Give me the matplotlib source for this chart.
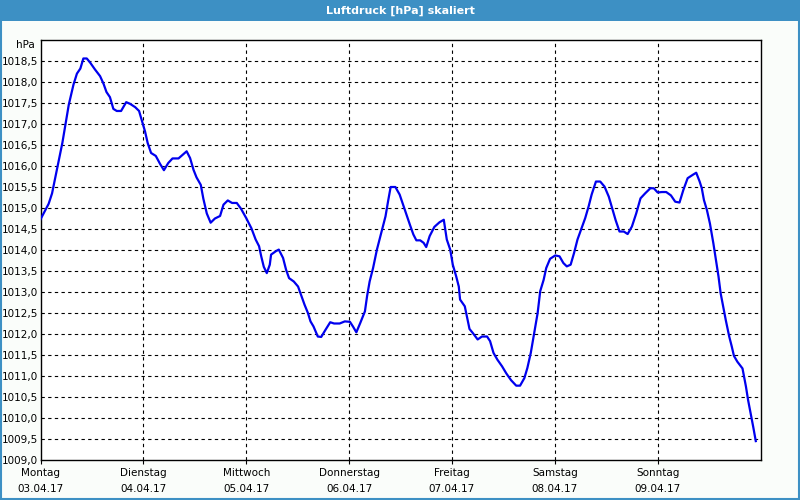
import matplotlib
matplotlib.use("Agg")
import matplotlib.pyplot as plt
from matplotlib.patches import Rectangle
import numpy as np

# hours since Monday 03.04.17 00:00
hours = [0.0, 1.9, 2.7, 3.5, 4.3, 5.1, 5.8, 6.6, 7.7, 8.5, 9.3, 10.0, 10.8, 11.6, 12.7, 13.9,
         14.7, 15.4, 16.2, 17.0, 17.8, 18.8, 20.0, 20.9, 22.1, 23.0, 23.6, 24.4, 25.0, 25.8,
         26.9, 27.9, 28.8, 29.8, 30.8, 32.2, 33.2, 34.1, 34.9, 35.7, 36.4, 37.4, 38.0, 38.8,
         39.7, 40.7, 41.9, 42.7, 43.7, 44.7, 45.8, 46.8, 48.0, 49.2, 50.2, 51.0, 51.5, 52.1,
         52.8, 53.5, 53.8, 54.9, 55.6, 56.6, 57.3, 58.0, 59.1, 60.1, 60.9, 61.6, 62.4, 63.0,
         63.7, 64.7, 65.5, 66.5, 67.6, 68.5, 69.8, 71.0, 72.2, 72.9, 73.7, 74.6, 75.7, 76.2,
         76.8, 77.6, 78.5, 79.5, 80.5, 81.1, 81.7, 82.8, 83.8, 85.0, 86.2, 87.0, 87.7, 88.6,
         89.4, 90.0, 90.8, 91.9, 93.1, 94.1, 94.8, 95.6, 96.2, 97.0, 97.6, 97.9, 99.0, 99.5,
         100.1, 100.9, 102.0, 103.0, 104.2, 104.9, 105.7, 106.6, 107.7, 108.7, 109.8, 111.0,
         111.9, 112.9, 113.6, 114.4, 115.2, 116.0, 116.6, 117.4, 118.0, 118.9, 120.1, 121.1,
         122.0, 122.8, 123.7, 124.5, 125.3, 126.1, 127.1, 127.9, 128.6, 129.6, 130.6, 131.6,
         132.6, 133.4, 134.2, 135.1, 136.1, 137.0, 138.0, 139.0, 140.0, 141.1, 142.3, 143.1,
         144.0, 145.0, 146.0, 147.1, 148.1, 149.1, 150.0, 151.0, 152.2, 153.0, 153.8, 154.3,
         154.8, 155.5, 156.2, 157.0, 157.6, 158.2, 158.7, 159.3, 159.9, 160.7, 161.3, 161.8,
         162.6, 163.8, 164.6, 165.1, 165.7, 166.3, 166.9]
pressure = [1014.73, 1015.10, 1015.35, 1015.75, 1016.15, 1016.55, 1016.98, 1017.46, 1017.94,
            1018.20, 1018.32, 1018.56, 1018.56, 1018.46, 1018.30, 1018.14, 1017.96, 1017.76,
            1017.64, 1017.36, 1017.31, 1017.31, 1017.52, 1017.48, 1017.40, 1017.31, 1017.10,
            1016.82, 1016.55, 1016.31, 1016.24, 1016.05, 1015.90, 1016.07, 1016.18, 1016.18,
            1016.27, 1016.35, 1016.19, 1015.91, 1015.73, 1015.55, 1015.22, 1014.87, 1014.65,
            1014.75, 1014.81, 1015.08, 1015.18, 1015.12, 1015.12, 1014.98, 1014.76, 1014.52,
            1014.25, 1014.09, 1013.85, 1013.60, 1013.45, 1013.65, 1013.89, 1013.97, 1014.01,
            1013.81, 1013.53, 1013.33, 1013.25, 1013.13, 1012.90, 1012.70, 1012.50, 1012.30,
            1012.18, 1011.94, 1011.93, 1012.10, 1012.28, 1012.25, 1012.25, 1012.30, 1012.29,
            1012.18, 1012.04, 1012.26, 1012.54, 1012.90, 1013.25, 1013.57, 1014.01, 1014.40,
            1014.80, 1015.16, 1015.50, 1015.50, 1015.32, 1014.96, 1014.60, 1014.37, 1014.23,
            1014.23, 1014.17, 1014.07, 1014.33, 1014.55, 1014.66, 1014.72, 1014.25, 1014.01,
            1013.65, 1013.37, 1013.13, 1012.82, 1012.66, 1012.42, 1012.12, 1012.02, 1011.87,
            1011.94, 1011.94, 1011.83, 1011.55, 1011.39, 1011.23, 1011.06, 1010.90, 1010.77,
            1010.77, 1010.95, 1011.19, 1011.55, 1012.02, 1012.50, 1013.02, 1013.29, 1013.57,
            1013.79, 1013.87, 1013.85, 1013.69, 1013.61, 1013.65, 1013.93, 1014.25, 1014.48,
            1014.76, 1015.04, 1015.32, 1015.63, 1015.63, 1015.51, 1015.27, 1014.99, 1014.71,
            1014.44, 1014.44, 1014.38, 1014.56, 1014.87, 1015.23, 1015.35, 1015.47, 1015.47,
            1015.37, 1015.38, 1015.38, 1015.30, 1015.15, 1015.13, 1015.43, 1015.71, 1015.79,
            1015.84, 1015.63, 1015.47, 1015.19, 1014.95, 1014.63, 1014.16, 1013.76, 1013.37,
            1012.97, 1012.65, 1012.33, 1011.94, 1011.70, 1011.48, 1011.34, 1011.18, 1010.75,
            1010.43, 1010.11, 1009.79, 1009.45]

day_names = ["Montag", "Dienstag", "Mittwoch", "Donnerstag", "Freitag", "Samstag", "Sonntag"]
day_dates = ["03.04.17", "04.04.17", "05.04.17", "06.04.17", "07.04.17", "08.04.17", "09.04.17"]
y_ticks = [1009.0 + 0.5 * i for i in range(21)]   # 1009.0 .. 1019.0
title = "Luftdruck [hPa] skaliert"
unit = "hPa"

fig = plt.figure(figsize=(8, 5), dpi=100, facecolor="#fafdfa")

# title bar
fig.patches.append(Rectangle((0, 1 - 21 / 500), 1, 21 / 500, transform=fig.transFigure,
                             facecolor="#3d90c4", edgecolor="none", zorder=0))
# outer frame
fig.patches.append(Rectangle((0.001, 0.002), 0.998, 0.996, transform=fig.transFigure,
                             facecolor="none", edgecolor="#3d90c4", linewidth=1.5, zorder=5))
fig.text(0.5, 1 - 10.5 / 500, title, color="white", ha="center", va="center",
         fontsize=8, fontweight="bold", family="DejaVu Sans")

ax = fig.add_axes([40.5 / 800, 40 / 500, 720 / 800, 420 / 500])
ax.set_facecolor("white")
ax.plot(hours, pressure, color="#0000ee", linewidth=1.6, solid_joinstyle="round", zorder=3)

ax.set_xlim(0, 168)
ax.set_ylim(1009.0, 1019.0)

xt = [24 * i for i in range(len(day_names))]
ax.set_xticks(xt)
ax.set_xticklabels([f"{n}\n{d}" for n, d in zip(day_names, day_dates)], fontsize=7.5,
                   linespacing=1.75)
ax.set_yticks(y_ticks[:-1])
ax.set_yticklabels([f"{v:.1f}".replace(".", ",") for v in y_ticks[:-1]], fontsize=7.5)

ax.tick_params(axis="x", length=3, width=0.8, pad=3, color="black")
ax.tick_params(axis="y", length=0, pad=2)

for x in xt[1:]:
    ax.axvline(x, color="black", linewidth=0.8, linestyle=(0, (3, 3)), zorder=1)
for y in y_ticks[1:-1]:
    ax.axhline(y, color="black", linewidth=0.8, linestyle=(0, (3, 3)), zorder=1)

for s in ax.spines.values():
    s.set_color("black")
    s.set_linewidth(1.0)

ax.text(-0.008, 0.988, unit, transform=ax.transAxes, ha="right", va="center", fontsize=7.5)

fig.savefig("out.png", dpi=100, facecolor=fig.get_facecolor())
